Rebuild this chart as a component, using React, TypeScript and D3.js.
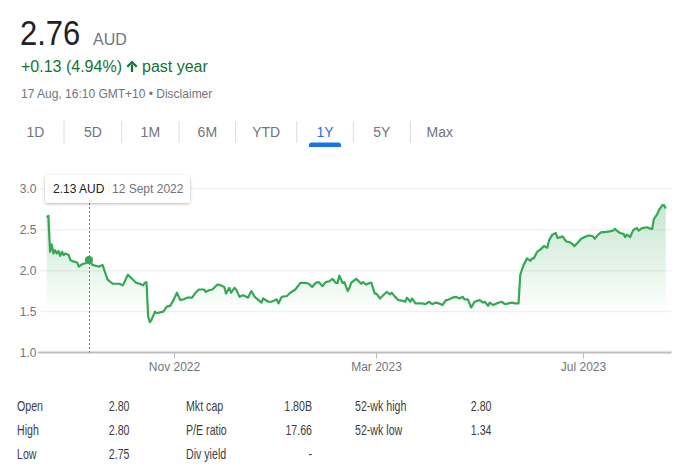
import React, { useEffect } from "react";
import * as d3 from "d3";

// ---- Data ----
const baseDateUTC = Date.UTC(2022, 7, 17);
const dayOffsets = [
  1, 2, 3, 4, 5, 6, 7, 8, 9, 10, 11, 12, 14, 15, 17, 19, 20, 22, 24, 26,
  28, 30, 32, 34, 36, 37, 40, 43, 44, 46, 49, 51, 54, 56, 58, 59, 60, 61, 62, 63,
  65, 66, 68, 70, 72, 74, 76, 78, 80, 82, 84, 87, 89, 91, 92, 94, 95, 97, 99, 102,
  104, 106, 107, 109, 110, 112, 113, 115, 117, 119, 120, 122, 124, 128, 129, 132, 134, 137, 138, 140,
  143, 145, 148, 151, 154, 156, 158, 160, 162, 164, 166, 168, 170, 172, 173, 174, 176, 177, 179, 180,
  181, 184, 187, 188, 190, 192, 193, 195, 196, 198, 200, 202, 204, 205, 207, 209, 212, 213, 214, 216,
  217, 219, 221, 223, 225, 227, 229, 231, 233, 235, 237, 238, 241, 243, 245, 247, 248, 250, 252, 254,
  257, 259, 260, 262, 263, 265, 267, 270, 272, 274, 276, 278, 280, 281, 283, 285, 287, 288, 289, 291,
  293, 295, 297, 298, 300, 302, 303, 305, 306, 308, 311, 313, 315, 317, 320, 322, 324, 325, 327, 329,
  331, 334, 336, 337, 338, 340, 342, 343, 344, 346, 347, 348, 350, 351, 353, 356, 357, 359, 360, 362,
  363, 365, 366, 367,
];
const prices = [
  2.65, 2.67, 2.23, 2.32, 2.21, 2.25, 2.21, 2.24, 2.18, 2.23, 2.19, 2.21, 2.19, 2.13, 2.11, 2.10, 2.05, 2.08, 2.09, 2.13,
  2.07, 2.06, 2.05, 2.07, 1.95, 1.89, 1.84, 1.84, 1.84, 1.82, 1.95, 1.91, 1.85, 1.84, 1.82, 1.85, 1.86, 1.44, 1.37, 1.40,
  1.50, 1.48, 1.49, 1.50, 1.56, 1.57, 1.64, 1.73, 1.64, 1.65, 1.67, 1.67, 1.73, 1.77, 1.77, 1.77, 1.74, 1.76, 1.77, 1.83,
  1.82, 1.80, 1.72, 1.79, 1.73, 1.79, 1.77, 1.68, 1.70, 1.68, 1.67, 1.75, 1.68, 1.61, 1.66, 1.62, 1.62, 1.65, 1.60, 1.68,
  1.69, 1.73, 1.77, 1.85, 1.85, 1.84, 1.80, 1.85, 1.86, 1.81, 1.86, 1.87, 1.90, 1.85, 1.85, 1.94, 1.85, 1.86, 1.75, 1.79,
  1.85, 1.90, 1.84, 1.86, 1.83, 1.85, 1.85, 1.72, 1.72, 1.66, 1.70, 1.74, 1.71, 1.73, 1.68, 1.64, 1.63, 1.62, 1.67, 1.62,
  1.66, 1.60, 1.60, 1.60, 1.59, 1.62, 1.59, 1.61, 1.60, 1.58, 1.64, 1.64, 1.67, 1.68, 1.66, 1.68, 1.65, 1.65, 1.55, 1.62,
  1.64, 1.61, 1.62, 1.57, 1.61, 1.58, 1.60, 1.62, 1.59, 1.60, 1.61, 1.60, 1.60, 1.95, 2.07, 2.15, 2.12, 2.15, 2.15, 2.23,
  2.26, 2.30, 2.28, 2.37, 2.44, 2.46, 2.40, 2.41, 2.42, 2.36, 2.34, 2.30, 2.34, 2.39, 2.42, 2.43, 2.42, 2.39, 2.44, 2.47,
  2.47, 2.48, 2.49, 2.51, 2.49, 2.46, 2.45, 2.41, 2.44, 2.41, 2.46, 2.50, 2.52, 2.49, 2.52, 2.53, 2.52, 2.51, 2.63, 2.69,
  2.74, 2.80, 2.80, 2.76,
];
const yTicks = [1.0, 1.5, 2.0, 2.5, 3.0];
const xTickDates = ["2022-11-01", "2023-03-01", "2023-07-01"];
const xTickLabels = ["Nov 2022", "Mar 2023", "Jul 2023"];
const tabLabels = ["1D", "5D", "1M", "6M", "YTD", "1Y", "5Y", "Max"];
const activeTab = "1Y";
const tooltipDate = "2022-09-12";
const tooltipPrice = 2.13;
const tooltipLabel = "12 Sept 2022";
const statLabels = [
  ["Open", "High", "Low"],
  ["Mkt cap", "P/E ratio", "Div yield"],
  ["52-wk high", "52-wk low"],
];
const statValues = [
  ["2.80", "2.80", "2.75"],
  ["1.80B", "17.66", "-"],
  ["2.80", "1.34"],
];

// ---- Layout ----
const W = 691;
const H = 471;
const FONT = "'Liberation Sans', Arial, sans-serif";
const GREEN = "#34a853";
const tabWidths = [57, 57.7, 57.3, 56.7, 61, 56.6, 57, 59];
const statColX = [17, 186, 355];
const statValX = [129.5, 312, 491.5];
const statRowY = [411, 435, 459];
const NARROW_SCALE = 0.76;

const toDate = (d: number) => new Date(baseDateUTC + d * 86400000);
const parseDate = (s: string) => new Date(s + "T00:00:00Z");

export default function App() {
  useEffect(() => {
    document.body.style.margin = "0";
  }, []);

  const x = d3
    .scaleUtc()
    .domain([toDate(0), toDate(367)])
    .range([45, 45 + 367 * 1.6913]);
  const y = d3.scaleLinear().domain([1, 3]).range([352.5, 188.8]);

  const data = dayOffsets.map((d, i) => ({ date: toDate(d), v: prices[i] }));
  const line = d3
    .line<{ date: Date; v: number }>()
    .x((d) => x(d.date))
    .y((d) => y(d.v));
  const area = d3
    .area<{ date: Date; v: number }>()
    .x((d) => x(d.date))
    .y0(y(1))
    .y1((d) => y(d.v));

  const tx = x(parseDate(tooltipDate));
  const ty = y(tooltipPrice);

  let tabX = 7;
  const tabs = tabLabels.map((t, i) => {
    const x0 = tabX;
    tabX += tabWidths[i];
    return { t, x0, w: tabWidths[i] };
  });

  return (
    <svg width={W} height={H} style={{ display: "block" }} fontFamily={FONT}>
      <defs>
        <linearGradient id="fillGrad" gradientUnits="userSpaceOnUse" x1="0" x2="0" y1={y(2.9)} y2={y(1.45)}>
          <stop offset="0" stopColor={GREEN} stopOpacity={0.3} />
          <stop offset="1" stopColor={GREEN} stopOpacity={0} />
        </linearGradient>
        <filter id="shadow" x="-20%" y="-50%" width="140%" height="200%">
          <feDropShadow dx="0" dy="1" stdDeviation="1.5" floodColor="#000" floodOpacity="0.28" />
        </filter>
      </defs>
      <rect width={W} height={H} fill="#fff" />

      {/* Header */}
      <text transform="translate(20,45) scale(0.86,1)" fontSize={36} fill="#202124">
        {prices[prices.length - 1].toFixed(2)}
      </text>
      <text x={93} y={45} fontSize={16} fill="#70757a">AUD</text>
      <text x={21} y={72} fontSize={16} fill="#137333">+0.13 (4.94%)</text>
      <path
        d="M132 72 V64.5 M127.3 66.8 L132 62 L136.7 66.8"
        stroke="#137333"
        strokeWidth={2.2}
        fill="none"
      />
      <text x={142} y={72} fontSize={16} fill="#137333">past year</text>
      <text x={21} y={98} fontSize={12} fill="#70757a">17 Aug, 16:10 GMT+10 • Disclaimer</text>

      {/* Tabs */}
      {tabs.map((tb, i) => (
        <g key={tb.t}>
          <text
            x={tb.x0 + tb.w / 2}
            y={137}
            fontSize={14}
            textAnchor="middle"
            fill={tb.t === activeTab ? "#1a73e8" : "#70757a"}
          >
            {tb.t}
          </text>
          {i < tabs.length - 1 && (
            <line x1={tb.x0 + tb.w} x2={tb.x0 + tb.w} y1={121} y2={143} stroke="#dadce0" strokeWidth={1} />
          )}
          {tb.t === activeTab && (
            <path
              d={`M${tb.x0 + tb.w / 2 - 16} 147 v-2 a2.5 2.5 0 0 1 2.5 -2.5 h27 a2.5 2.5 0 0 1 2.5 2.5 v2 z`}
              fill="#1a73e8"
            />
          )}
        </g>
      ))}

      {/* Grid */}
      {yTicks.map((t) =>
        t > 1 ? (
          <line key={t} x1={40} x2={671.5} y1={y(t)} y2={y(t)} stroke="#f1f1f1" strokeWidth={1.5} />
        ) : null
      )}
      {yTicks.map((t) => (
        <text key={"l" + t} x={36.5} y={y(t)} dy="0.35em" fontSize={12} textAnchor="end" fill="#70757a">
          {t.toFixed(1)}
        </text>
      ))}

      {/* Area + line */}
      <path d={area(data) || ""} fill="url(#fillGrad)" />
      <path d={line(data) || ""} fill="none" stroke={GREEN} strokeWidth={2.2} strokeLinejoin="round" />

      {/* Axis */}
      <line x1={38} x2={671.5} y1={y(1)} y2={y(1)} stroke="#bdbdbd" strokeWidth={2} />
      {xTickDates.map((d, i) => {
        const px = Math.round(x(parseDate(d))) + 0.5;
        return (
          <g key={d}>
            <line x1={px} x2={px} y1={y(1)} y2={y(1) + 6} stroke="#bdbdbd" strokeWidth={1} />
            <text x={px} y={371} fontSize={12} textAnchor="middle" fill="#70757a">
              {xTickLabels[i]}
            </text>
          </g>
        );
      })}

      {/* Tooltip */}
      <line
        x1={Math.round(tx) + 0.5}
        x2={Math.round(tx) + 0.5}
        y1={203}
        y2={y(1)}
        stroke="#70757a"
        strokeWidth={1}
        strokeDasharray="2,2"
      />
      <circle cx={tx} cy={ty} r={4} fill={GREEN} />
      <rect x={45} y={175} width={145} height={28} rx={3} fill="#fff" filter="url(#shadow)" />
      <text x={53} y={193} fontSize={12} fill="#202124">
        {tooltipPrice.toFixed(2)} AUD
      </text>
      <text x={112} y={193} fontSize={12} fill="#70757a">
        {tooltipLabel}
      </text>

      {/* Stats table */}
      {statLabels.map((col, c) =>
        col.map((lab, r) => (
          <g key={lab}>
            <text
              transform={`translate(${statColX[c]},${statRowY[r]}) scale(${NARROW_SCALE},1)`}
              fontSize={14}
              fill="#3c4043"
            >
              {lab}
            </text>
            <text
              transform={`translate(${statValX[c]},${statRowY[r]}) scale(${NARROW_SCALE},1)`}
              fontSize={14}
              textAnchor="end"
              fill="#3c4043"
            >
              {statValues[c][r]}
            </text>
          </g>
        ))
      )}
    </svg>
  );
}
